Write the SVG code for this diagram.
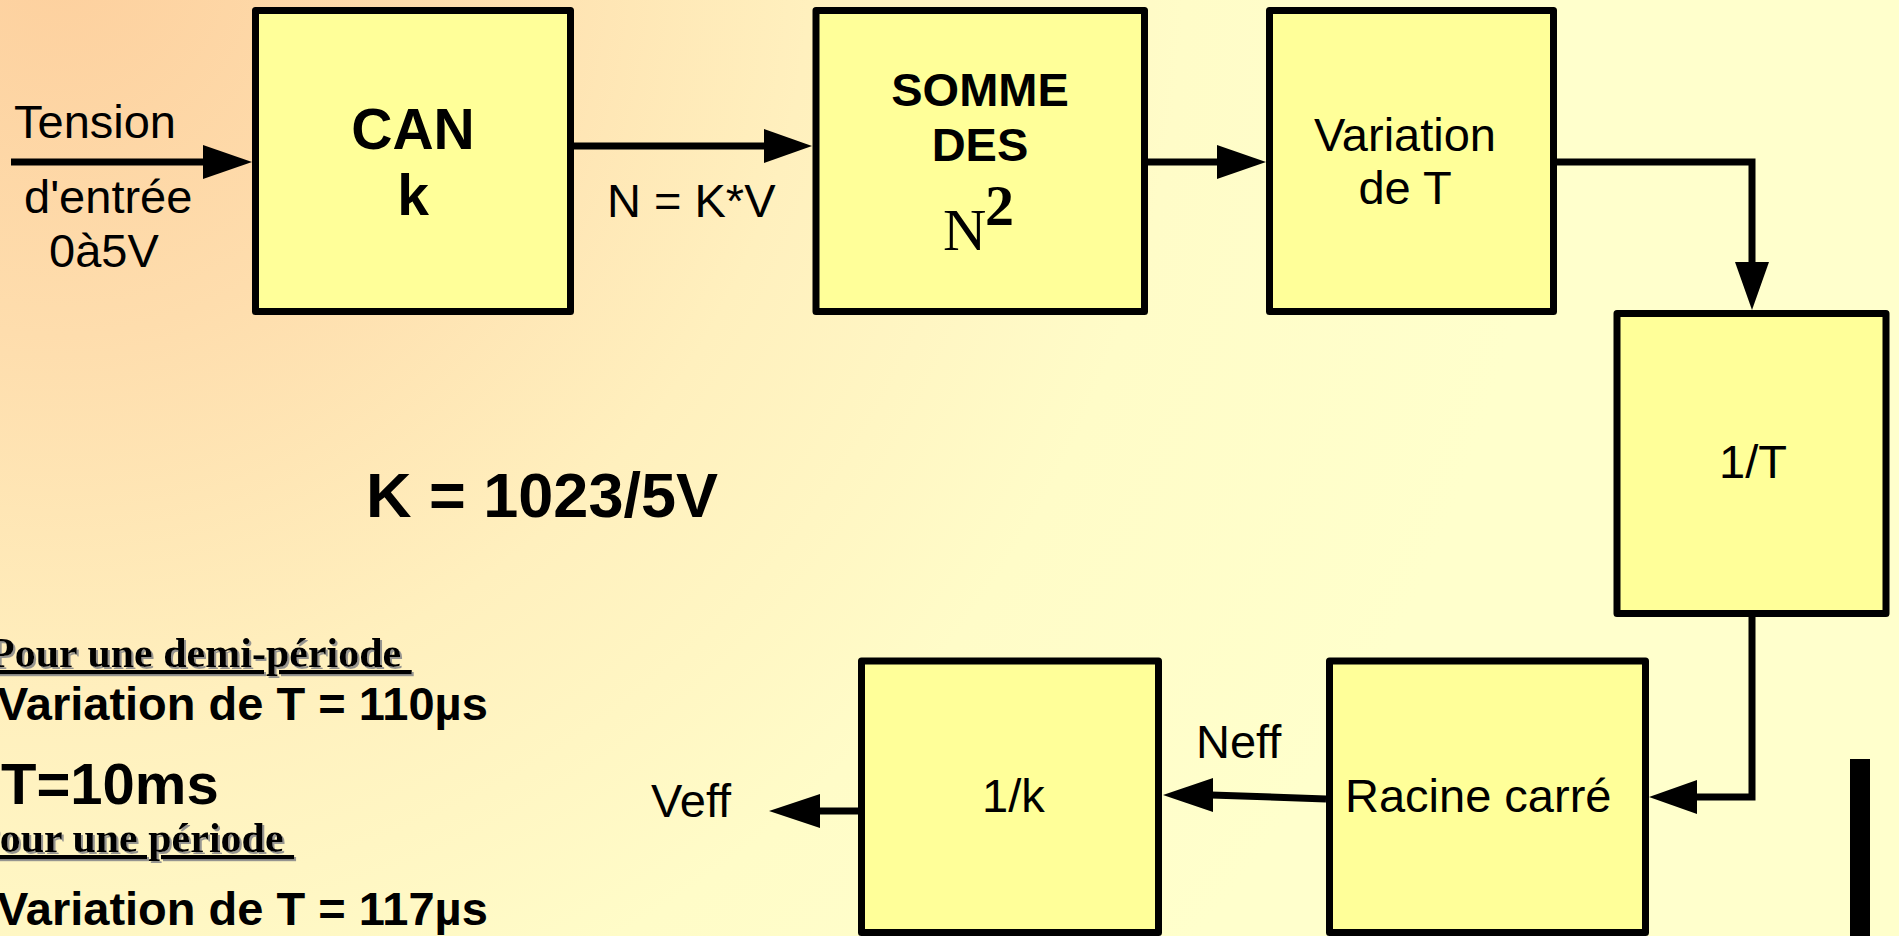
<svg xmlns="http://www.w3.org/2000/svg" width="1899" height="936" viewBox="0 0 1899 936">
<defs>
<radialGradient id="bg" gradientUnits="userSpaceOnUse" cx="60" cy="-40" r="1500">
<stop offset="0" stop-color="#FDD09E"/>
<stop offset="0.25" stop-color="#FEDDAD"/>
<stop offset="0.5" stop-color="#FFF0BE"/>
<stop offset="0.75" stop-color="#FFFCC8"/>
<stop offset="1" stop-color="#FFFFCC"/>
</radialGradient>
<filter id="sh" x="-5%" y="-20%" width="110%" height="150%">
<feDropShadow dx="2" dy="2" stdDeviation="0.6" flood-color="#8a8a8a" flood-opacity="0.9"/>
</filter>
<style>
.box{fill:#FFFF99;stroke:#000;stroke-width:7;stroke-linejoin:round}
.ln{fill:none;stroke:#000;stroke-width:7;stroke-linejoin:miter}
.hd{fill:#000}
.t{font-family:"Liberation Sans",Arial,sans-serif;font-size:47px;fill:#000}
.b{font-family:"Liberation Sans",Arial,sans-serif;font-weight:bold;fill:#000}
.tm{font-family:"Liberation Serif","Times New Roman",serif;fill:#000}
.u{font-family:"Liberation Serif","Times New Roman",serif;font-weight:bold;font-size:42px;fill:#000;text-decoration:underline;white-space:pre}
.m{text-anchor:middle}
</style>
</defs>
<rect x="0" y="0" width="1899" height="936" fill="url(#bg)"/>

<g id="connectors">
<line class="ln" x1="11" y1="162" x2="205" y2="162"/>
<polygon class="hd" points="203,145 252,162 203,179"/>
<line class="ln" x1="574" y1="146" x2="766" y2="146"/>
<polygon class="hd" points="764,129 812,146 764,163"/>
<line class="ln" x1="1148" y1="162" x2="1219" y2="162"/>
<polygon class="hd" points="1217,145 1266,162 1217,179"/>
<polyline class="ln" points="1557,162 1752,162 1752,264"/>
<polygon class="hd" points="1735,262 1769,262 1752,310"/>
<polyline class="ln" points="1752,617 1752,797 1695,797"/>
<polygon class="hd" points="1697,780 1649,797 1697,814"/>
<line class="ln" x1="1326" y1="799" x2="1211" y2="795"/>
<polygon class="hd" points="1213,778 1163,795 1213,812"/>
<line class="ln" x1="858" y1="811" x2="818" y2="811"/>
<polygon class="hd" points="820,794 769,811 820,828"/>
</g>

<g id="tension-label">
<text class="t" x="14" y="138">Tension</text>
<text class="t" x="24" y="213">d'entrée</text>
<text class="t" x="49" y="267">0à5V</text>
</g>

<g id="can">
<rect class="box" x="255.5" y="10.5" width="315" height="301"/>
<text class="b m" x="413" y="149" font-size="57">CAN</text>
<text class="b m" x="413" y="215" font-size="57">k</text>
</g>

<text class="t" x="607" y="217">N = K*V</text>

<g id="somme">
<rect class="box" x="816" y="10.5" width="328.5" height="301"/>
<text class="b m" x="980" y="106" font-size="47">SOMME</text>
<text class="b m" x="980" y="161" font-size="47">DES</text>
<text class="tm" x="943" y="250" font-size="60">N</text>
<text class="tm" x="985" y="225" font-size="58" font-weight="bold">2</text>
</g>

<g id="variation">
<rect class="box" x="1269.5" y="10.5" width="284" height="301"/>
<text class="t m" x="1405" y="151">Variation</text>
<text class="t m" x="1405" y="204">de T</text>
</g>

<g id="inv-t">
<rect class="box" x="1617" y="313.5" width="269" height="300"/>
<text class="t" x="1719" y="478">1/T</text>
</g>

<g id="racine">
<rect class="box" x="1329.5" y="661" width="316" height="271.5"/>
<text class="t" x="1345" y="812" font-size="48">Racine carré</text>
</g>

<text class="t" x="1196" y="758">Neff</text>

<g id="inv-k">
<rect class="box" x="861.5" y="661" width="297" height="271.5"/>
<text class="t" x="982" y="812">1/k</text>
</g>

<text class="t" x="651" y="817">Veff</text>

<text class="b" x="366" y="517" font-size="63">K = 1023/5V</text>

<g id="notes">
<text class="u" x="-11" y="667" filter="url(#sh)">Pour une demi-période </text>
<text class="b" x="-3" y="720" font-size="47">Variation de T = 110µs</text>
<text class="b" x="1" y="804" font-size="58">T=10ms</text>
<text class="u" x="-26" y="852" filter="url(#sh)">Pour une période </text>
<text class="b" x="-3" y="925" font-size="47">Variation de T = 117µs</text>
</g>

<rect x="1850" y="759" width="20" height="177" fill="#000"/>
</svg>
